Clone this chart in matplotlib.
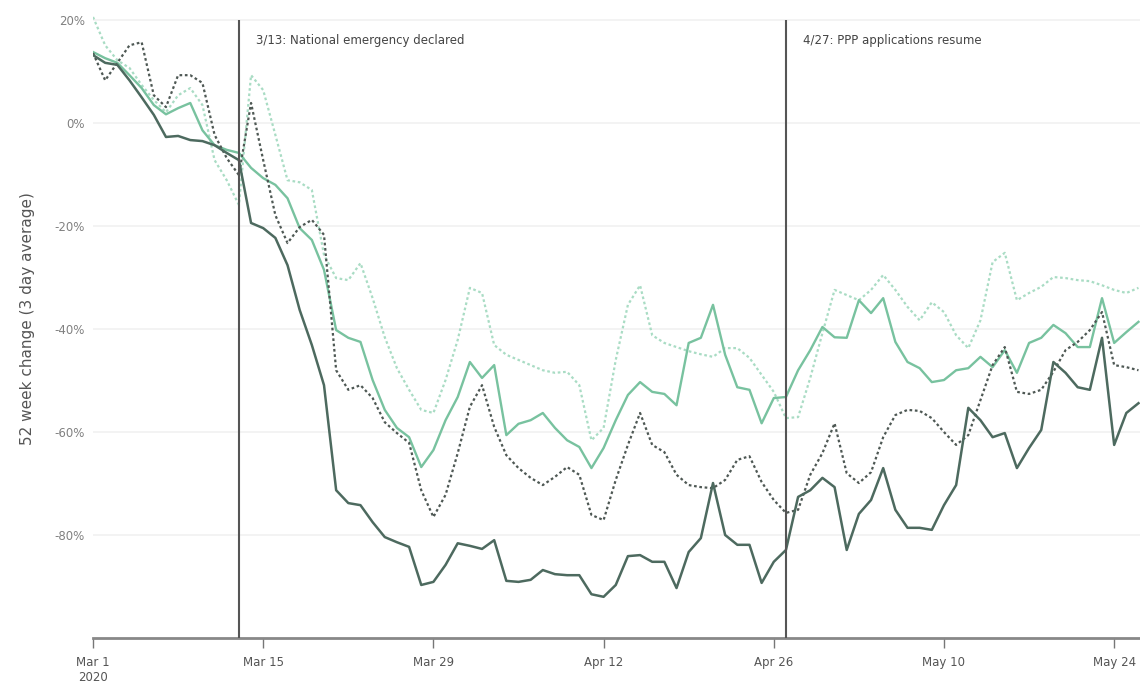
import matplotlib.pyplot as plt
import matplotlib.dates as mdates
import numpy as np
import pandas as pd

plt.rcParams['font.family'] = ['Liberation Sans Narrow', 'DejaVu Sans']

# daily values, Mar 1 - May 26 2020 (3 day average, % change vs 52 weeks ago)
dates = pd.date_range("2020-03-01", "2020-05-26", freq="D")

dark_solid = [13.2, 11.7, 11.3, 8.3, 5.0, 1.6, -2.7, -2.5, -3.3, -3.5,
              -4.3, -5.8, -7.2, -19.4, -20.4, -22.3, -27.6, -36.3, -43.1, -50.9,
              -71.3, -73.8, -74.2, -77.5, -80.4, -81.4, -82.3, -89.7, -89.1, -85.8,
              -81.6, -82.1, -82.7, -81.0, -88.9, -89.1, -88.7, -86.8, -87.6, -87.8,
              -87.8, -91.5, -92.0, -89.7, -84.1, -83.9, -85.2, -85.2, -90.3, -83.3,
              -80.6, -69.9, -80.0, -81.9, -81.9, -89.3, -85.2, -82.9, -72.6, -71.3,
              -68.9, -70.7, -82.9, -75.9, -73.2, -67.0, -75.1, -78.6, -78.6, -79.0,
              -74.2, -70.3, -55.3, -57.7, -61.0, -60.2, -67.0, -63.1, -59.6, -46.4,
              -48.5, -51.3, -51.8, -41.7, -62.5, -56.3, -54.4]

dark_dotted = [13.6, 8.3, 11.7, 15.1, 15.7, 5.4, 3.1, 9.3, 9.3, 7.8,
               -2.3, -6.8, -10.1, 3.9, -7.2, -17.9, -23.3, -20.2, -18.8, -21.7,
               -48.0, -51.8, -50.9, -53.4, -58.1, -60.2, -62.1, -71.3, -76.5, -72.2,
               -64.1, -55.1, -50.9, -59.0, -64.5, -67.0, -68.9, -70.3, -68.7, -66.8,
               -68.3, -76.1, -77.1, -69.3, -62.5, -56.3, -62.5, -63.9, -68.3, -70.3,
               -70.7, -70.9, -69.3, -65.4, -64.7, -69.7, -73.2, -75.7, -75.1, -68.3,
               -64.1, -58.3, -68.0, -69.9, -67.8, -61.0, -56.7, -55.7, -55.9, -57.3,
               -60.0, -62.5, -60.6, -53.8, -47.0, -43.5, -52.2, -52.6, -51.8, -48.3,
               -44.1, -42.5, -40.2, -36.7, -47.0, -47.4, -48.0]

green_solid = [13.8, 12.6, 11.7, 9.3, 6.8, 3.5, 1.7, 2.9, 3.9, -1.4,
               -4.3, -5.2, -5.8, -8.7, -10.7, -12.0, -14.6, -20.4, -22.7, -28.5,
               -40.2, -41.7, -42.5, -49.9, -55.7, -59.2, -61.0, -66.8, -63.5, -57.7,
               -53.2, -46.4, -49.5, -47.0, -60.6, -58.4, -57.7, -56.3, -59.2, -61.6,
               -62.9, -67.0, -63.1, -57.7, -52.8, -50.3, -52.2, -52.6, -54.8, -42.7,
               -41.7, -35.3, -45.0, -51.3, -51.8, -58.3, -53.4, -53.2, -48.0, -44.1,
               -39.6, -41.6, -41.7, -34.4, -36.9, -34.0, -42.5, -46.4, -47.6, -50.3,
               -49.9, -48.0, -47.6, -45.4, -47.4, -44.1, -48.5, -42.7, -41.7, -39.2,
               -40.8, -43.5, -43.5, -34.0, -42.7, -40.6, -38.6]

green_dotted = [20.6, 15.1, 12.2, 10.7, 7.4, 4.5, 2.1, 5.4, 6.8, 3.5,
                -7.2, -11.1, -15.9, 9.3, 6.4, -2.3, -11.1, -11.5, -13.0, -25.6,
                -30.1, -30.5, -27.2, -34.0, -41.6, -47.6, -51.8, -55.7, -56.3, -49.9,
                -42.1, -32.0, -33.0, -43.1, -45.0, -46.0, -47.0, -48.0, -48.5, -48.3,
                -50.9, -61.6, -59.2, -46.0, -35.3, -31.5, -41.2, -42.7, -43.5, -44.3,
                -44.9, -45.4, -43.7, -43.7, -45.6, -48.9, -52.2, -57.3, -57.1, -49.5,
                -40.8, -32.4, -33.4, -34.4, -32.4, -29.5, -32.4, -35.7, -38.3, -34.8,
                -36.7, -41.2, -43.7, -38.3, -27.0, -25.2, -34.4, -33.0, -31.8, -29.9,
                -30.1, -30.5, -30.7, -31.5, -32.4, -33.0, -32.0]

events = [pd.Timestamp("2020-03-13"), pd.Timestamp("2020-04-27")]
event_labels = ["3/13: National emergency declared", "4/27: PPP applications resume"]

tick_dates = pd.date_range("2020-03-01", "2020-05-24", freq="14D")
tick_labels = ["Mar 1\n2020", "Mar 15", "Mar 29", "Apr 12", "Apr 26", "May 10", "May 24"]

fig = plt.figure(figsize=(11.4, 6.89), dpi=100)
ax = fig.add_axes([0.0816, 0.074, 0.9184, 0.926])

ax.plot(dates, green_dotted, color="#a9dcc4", lw=1.6, ls=(0, (1.2, 1.2)))
ax.plot(dates, green_solid, color="#78c29f", lw=1.7)
ax.plot(dates, dark_dotted, color="#4e5854", lw=1.6, ls=(0, (1.2, 1.2)))
ax.plot(dates, dark_solid, color="#4d6a5f", lw=1.8)

for d, lab in zip(events, event_labels):
    ax.vlines(d, -100, 20, color="#555555", lw=1.5, zorder=5)
    ax.text(d + pd.Timedelta(days=1.4), 16.1, lab, fontsize=8.5, color="#444444",
            va="center", ha="left")

ax.set_xlim(pd.Timestamp("2020-03-01"), pd.Timestamp("2020-05-26 03:00"))
ax.set_ylim(-100, 23.9)

ax.set_yticks([20, 0, -20, -40, -60, -80])
ax.set_yticklabels(["20%", "0%", "-20%", "-40%", "-60%", "-80%"])
ax.grid(axis="y", color="#f1f1f1", lw=1.2)
ax.set_axisbelow(True)
ax.tick_params(axis="y", length=0, labelsize=8.5, labelcolor="#808080", pad=6)

ax.set_xticks(tick_dates)
ax.set_xticklabels(tick_labels)
ax.tick_params(axis="x", length=7, width=1, color="#777777", labelsize=8.5,
               labelcolor="#555555", pad=6)

for s in ["top", "right", "left"]:
    ax.spines[s].set_visible(False)
ax.spines["bottom"].set_color("#888888")
ax.spines["bottom"].set_linewidth(2)

ax.set_ylabel("52 week change (3 day average)", fontsize=11, color="#555555",
              family="DejaVu Sans", labelpad=14)

fig.savefig("out.png", dpi=100)
